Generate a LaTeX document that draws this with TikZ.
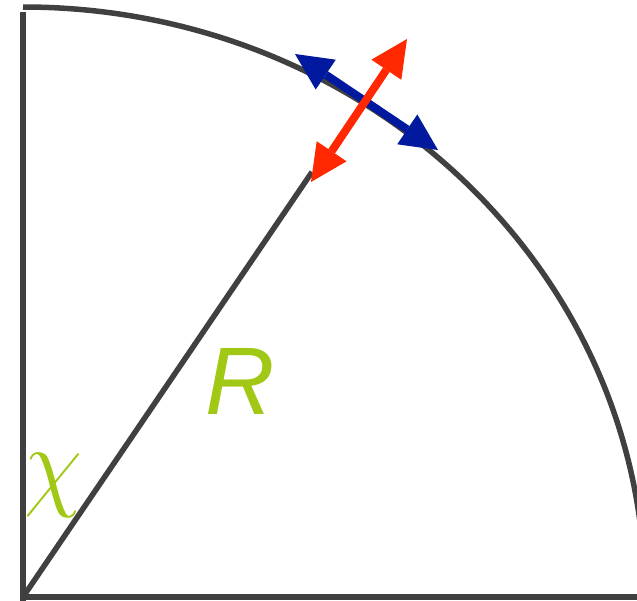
\documentclass[tikz,border=0pt]{standalone}
\usepackage{fontspec}
\setmainfont{Liberation Sans}
\usetikzlibrary{arrows.meta}
\definecolor{lgray}{RGB}{64,64,64}
\definecolor{tipred}{RGB}{255,40,0}
\definecolor{tipblue}{RGB}{0,25,158}
\definecolor{lgreen}{RGB}{160,200,20}
\tikzset{
  frameline/.style={draw=lgray, line width=5.5pt},
  bigtip/.tip={Triangle[length=37pt,width=36pt,line width=0pt]},
  redarrow/.style={draw=tipred, fill=tipred, line width=8pt, {bigtip}-{bigtip}},
  bluearrow/.style={draw=tipblue, fill=tipblue, line width=8pt, {bigtip}-{bigtip}},
  lbl/.style={text=lgreen, inner sep=0pt}
}
\begin{document}
\begin{tikzpicture}[x=1pt,y=-1pt]
\useasboundingbox (0,0) rectangle (637,600);
\clip (0,0) rectangle (637,600);
\coordinate (O) at (23,597);
\coordinate (Top) at (23,12);
\coordinate (Bot) at (23,603);
\coordinate (Left) at (20.25,597);
\coordinate (Right) at (645,597);
\coordinate (ArcTop) at (23,7);
\coordinate (Rend) at (312,172);
\coordinate (redA) at (311,182);
\coordinate (redB) at (407,39);
\coordinate (blueA) at (295,54);
\coordinate (blueB) at (438,150);
% frame
\draw[frameline] (Top) -- (Bot);
\draw[frameline] (Left) -- (Right);
\draw[frameline] (ArcTop) arc[start angle=-90, end angle=0, x radius=622, y radius=590];
% radius
\draw[frameline] (O) -- (Rend);
% arrows
\draw[bluearrow] (blueA) -- (blueB);
\draw[redarrow] (redA) -- (redB);
% labels
\node[lbl, font=\fontsize{96}{96}\selectfont\itshape] (R) at (240,381) {R};
\node[lbl, font=\Huge, xscale=3.8, yscale=4.1] (chi) at (53,485) {$\chi$};
\end{tikzpicture}
\end{document}
